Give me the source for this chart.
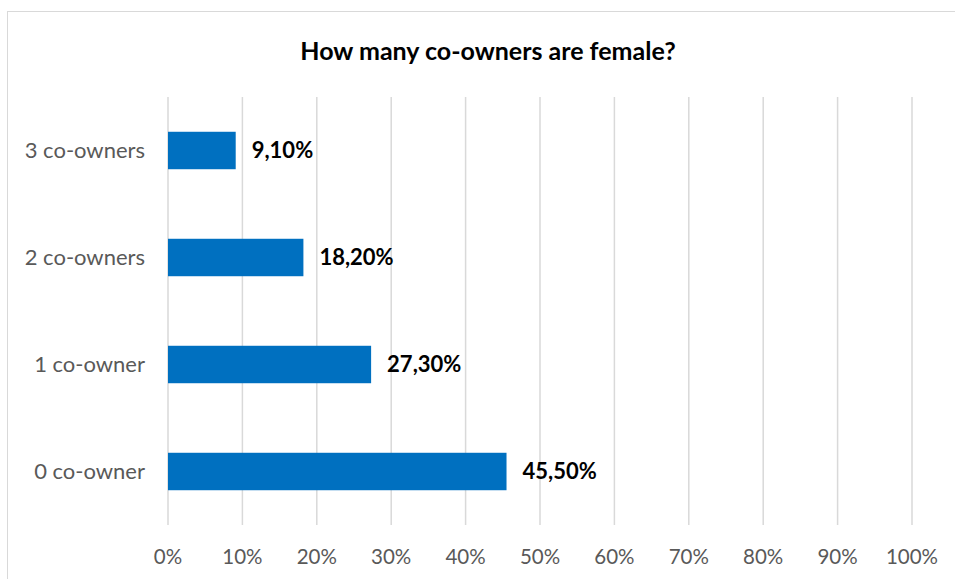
<!DOCTYPE html>
<html>
<head>
<meta charset="utf-8">
<script src="https://cdn.jsdelivr.net/npm/d3@7"></script>
<style>
  body { margin: 0; background: #fff; }
  svg { display: block; font-family: Lato, "Open Sans", sans-serif; }
</style>
</head>
<body>
<div id="chart"></div>
<script>
const categories = ["3 co-owners", "2 co-owners", "1 co-owner", "0 co-owner"];
const values = [9.1, 18.2, 27.3, 45.5];
const valueLabels = ["9,10%", "18,20%", "27,30%", "45,50%"];
const xTicks = [0, 10, 20, 30, 40, 50, 60, 70, 80, 90, 100];
const title = "How many co-owners are female?";

const width = 955;
const height = 579;
const margin = { top: 97, right: 43, bottom: 54, left: 168 };

const svg = d3
  .select("#chart")
  .append("svg")
  .attr("width", width)
  .attr("height", height);

// chart frame (extends past right / bottom edges)
svg
  .append("rect")
  .attr("x", 7.5)
  .attr("y", 11.5)
  .attr("width", width + 20)
  .attr("height", height + 20)
  .attr("fill", "none")
  .attr("stroke", "#d9d9d9")
  .attr("stroke-width", 1);

const xScale = d3
  .scaleLinear()
  .domain([0, 100])
  .range([margin.left, width - margin.right]);

const yScale = d3
  .scaleBand()
  .domain(categories)
  .range([margin.top, height - margin.bottom])
  .paddingInner(0.65)
  .paddingOuter(0.325);

// gridlines
svg
  .append("g")
  .selectAll("line")
  .data(xTicks)
  .join("line")
  .attr("x1", (d) => xScale(d))
  .attr("x2", (d) => xScale(d))
  .attr("y1", margin.top)
  .attr("y2", height - margin.bottom)
  .attr("stroke", "#d9d9d9")
  .attr("stroke-width", 1.5);

// x tick labels
svg
  .append("g")
  .selectAll("text")
  .data(xTicks)
  .join("text")
  .attr("x", (d) => xScale(d))
  .attr("y", 557)
  .attr("dy", "0.35em")
  .attr("text-anchor", "middle")
  .attr("fill", "#595959")
  .style("font-size", "20.5px")
  .text((d) => `${d}%`);

// category labels
svg
  .append("g")
  .selectAll("text")
  .data(categories)
  .join("text")
  .attr("x", 145)
  .attr("y", (d) => yScale(d) + yScale.bandwidth() / 2)
  .attr("dy", "0.35em")
  .attr("text-anchor", "end")
  .attr("fill", "#595959")
  .style("font-size", "22px")
  .text((d) => d);

// bars
svg
  .append("g")
  .selectAll("rect")
  .data(values)
  .join("rect")
  .attr("x", xScale(0))
  .attr("y", (d, i) => yScale(categories[i]))
  .attr("width", (d) => xScale(d) - xScale(0))
  .attr("height", yScale.bandwidth())
  .attr("fill", "#0070c0");

// value labels
svg
  .append("g")
  .selectAll("text")
  .data(values)
  .join("text")
  .attr("x", (d) => xScale(d) + 16)
  .attr("y", (d, i) => yScale(categories[i]) + yScale.bandwidth() / 2)
  .attr("dy", "0.35em")
  .attr("fill", "#000")
  .style("font-size", "22px")
  .style("font-weight", "bold")
  .text((d, i) => valueLabels[i]);

// title
svg
  .append("text")
  .attr("x", 488)
  .attr("y", 51)
  .attr("dy", "0.35em")
  .attr("text-anchor", "middle")
  .attr("fill", "#000")
  .style("font-size", "25px")
  .style("font-weight", "bold")
  .text(title);
</script>
</body>
</html>
